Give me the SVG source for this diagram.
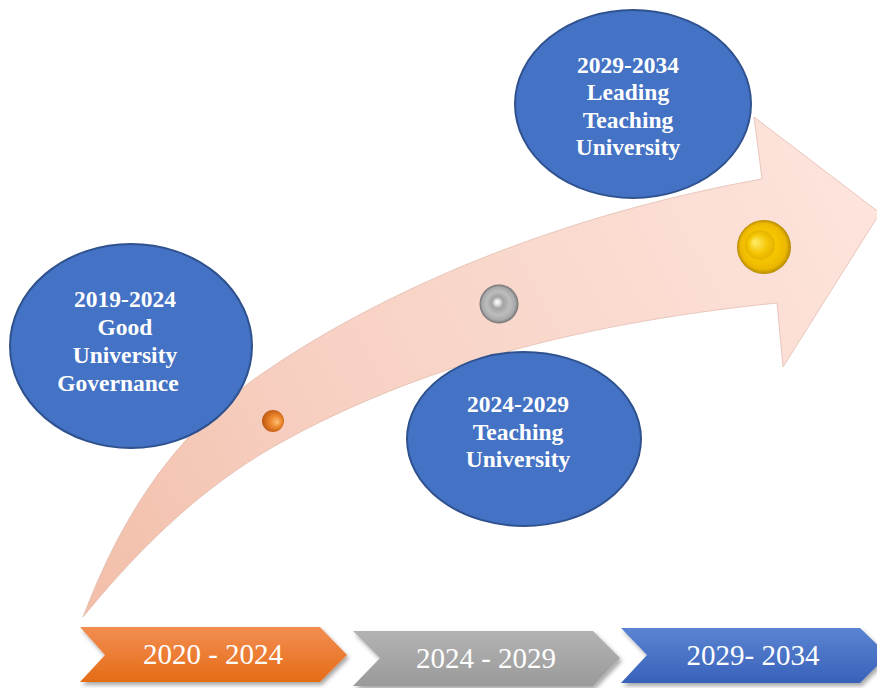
<svg xmlns="http://www.w3.org/2000/svg" width="877" height="688" viewBox="0 0 877 688">
<defs>
<style>
.ell{fill:#4472C4;stroke:#2F528F;stroke-width:2}
.et{font-family:"Liberation Serif","Times New Roman",serif;font-weight:bold;font-size:23.5px;fill:#FFFFFF;text-anchor:middle}
.ct{font-family:"Liberation Serif","Times New Roman",serif;font-size:29px;fill:#FFFFFF;text-anchor:middle}
</style>
<linearGradient id="arrowG" gradientUnits="userSpaceOnUse" x1="83" y1="617" x2="877" y2="210">
<stop offset="0" stop-color="#F2BEA8"/>
<stop offset="0.35" stop-color="#F7D0C2"/>
<stop offset="1" stop-color="#FDE4DC"/>
</linearGradient>
<linearGradient id="orgG" x1="0" y1="0" x2="0" y2="1">
<stop offset="0" stop-color="#F28E52"/>
<stop offset="1" stop-color="#E56C17"/>
</linearGradient>
<linearGradient id="grayG" x1="0" y1="0" x2="0" y2="1">
<stop offset="0" stop-color="#B3B3B3"/>
<stop offset="1" stop-color="#9A9A9A"/>
</linearGradient>
<linearGradient id="blueG" x1="0" y1="0" x2="0" y2="1">
<stop offset="0" stop-color="#5B84D2"/>
<stop offset="1" stop-color="#3862BA"/>
</linearGradient>
<radialGradient id="orangeS" cx="0.55" cy="0.5" r="0.6" fx="0.7" fy="0.55">
<stop offset="0" stop-color="#FCC07A"/>
<stop offset="0.4" stop-color="#EF8B30"/>
<stop offset="1" stop-color="#B8500C"/>
</radialGradient>
<radialGradient id="silverS" cx="0.5" cy="0.5" r="0.5" fx="0.45" fy="0.45">
<stop offset="0" stop-color="#FFFFFF"/>
<stop offset="0.12" stop-color="#E6E6E6"/>
<stop offset="0.3" stop-color="#A2A2A2"/>
<stop offset="0.6" stop-color="#BDBDBD"/>
<stop offset="0.85" stop-color="#A9A9A9"/>
<stop offset="1" stop-color="#707070"/>
</radialGradient>
<radialGradient id="goldS" cx="0.5" cy="0.5" r="0.5" fx="0.4" fy="0.4">
<stop offset="0" stop-color="#FFEB5C"/>
<stop offset="0.5" stop-color="#F7C800"/>
<stop offset="0.85" stop-color="#EDB800"/>
<stop offset="1" stop-color="#B58A00"/>
</radialGradient>
<radialGradient id="goldIn" cx="0.5" cy="0.5" r="0.5" fx="0.3" fy="0.4">
<stop offset="0" stop-color="#FFF07A"/>
<stop offset="0.6" stop-color="#F4C400"/>
<stop offset="1" stop-color="#E0AE00"/>
</radialGradient>
<filter id="sh" x="-10%" y="-20%" width="125%" height="160%">
<feDropShadow dx="2" dy="3" stdDeviation="2" flood-color="#000000" flood-opacity="0.35"/>
</filter>
</defs>

<g id="connectors">
<path id="timeline-arrow" d="M83,617 C120,520 170,440 253,380 C380,290 560,215 762,179 L754,117 L880,213 L783,367 L777,303 C560,325 400,375 273,447 C190,495 130,560 83,617 Z" fill="url(#arrowG)" stroke="#E2BDB0" stroke-width="0.8"/>
</g>

<g id="markers">
<circle id="sphere-orange" cx="273" cy="421" r="11" fill="url(#orangeS)"/>
<circle id="sphere-silver" cx="499" cy="304" r="19.5" fill="url(#silverS)"/>
<g id="sphere-gold">
<circle cx="764" cy="247" r="27" fill="url(#goldS)"/>
<circle cx="760" cy="245" r="15" fill="url(#goldIn)" opacity="0.8"/>
</g>
</g>

<g id="node-2019">
<ellipse class="ell" cx="131" cy="346" rx="121" ry="102"/>
<text class="et" x="125" y="307">2019-2024</text>
<text class="et" x="125" y="335">Good</text>
<text class="et" x="125" y="363">University</text>
<text class="et" x="118" y="391">Governance</text>
</g>

<g id="node-2024">
<ellipse class="ell" cx="524" cy="439" rx="117" ry="87"/>
<text class="et" x="518" y="412">2024-2029</text>
<text class="et" x="518" y="440">Teaching</text>
<text class="et" x="518" y="467">University</text>
</g>

<g id="node-2029">
<ellipse class="ell" cx="633" cy="104" rx="118" ry="94"/>
<text class="et" x="628" y="73">2029-2034</text>
<text class="et" x="628" y="100">Leading</text>
<text class="et" x="628" y="128">Teaching</text>
<text class="et" x="628" y="155">University</text>
</g>

<g id="chevron-1">
<polygon points="80,627 320,627 347,655 320,682 80,682 105,655" fill="url(#orgG)" filter="url(#sh)"/>
<text class="ct" x="213" y="664">2020 - 2024</text>
</g>
<g id="chevron-2">
<polygon points="353,631 593,631 620,658 593,686 353,686 380,658" fill="url(#grayG)" filter="url(#sh)"/>
<text class="ct" x="486" y="668">2024 - 2029</text>
</g>
<g id="chevron-3">
<polygon points="621,628 860,628 888,655 860,683 621,683 647,655" fill="url(#blueG)" filter="url(#sh)"/>
<text class="ct" x="753" y="665">2029- 2034</text>
</g>
</svg>
